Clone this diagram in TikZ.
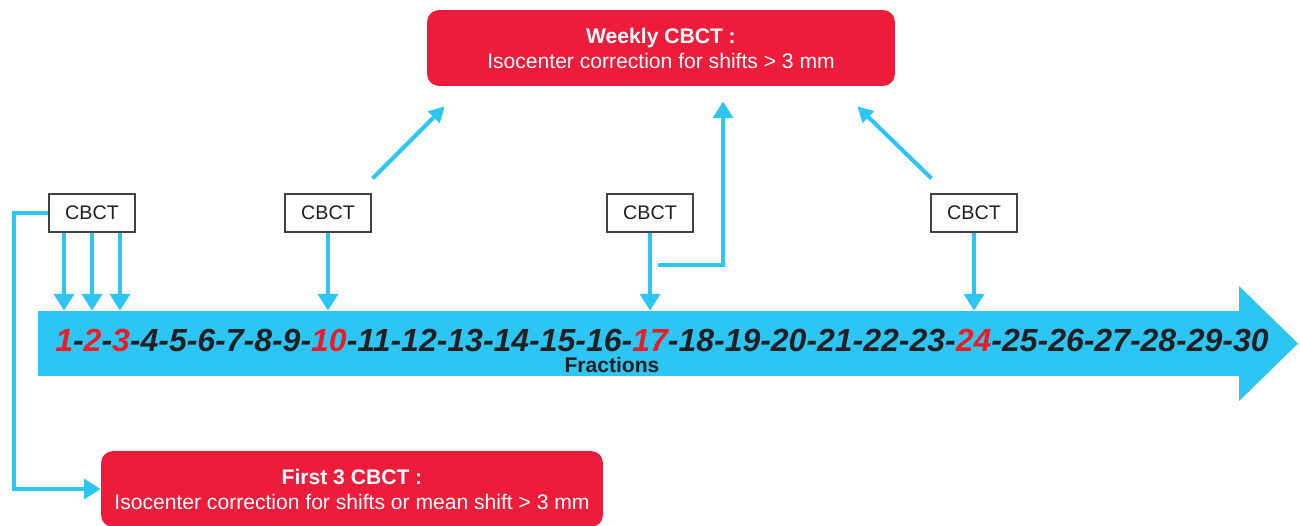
\documentclass[tikz,border=0pt]{standalone}
\usepackage{fontspec}
\setmainfont{Liberation Sans}
\usetikzlibrary{positioning,arrows.meta,calc,shapes}
\definecolor{arrowcyan}{RGB}{45,197,244}
\definecolor{boxred}{RGB}{237,28,58}
\definecolor{fracred}{RGB}{237,28,36}
\definecolor{textblack}{RGB}{35,31,32}
\tikzset{
    cbct/.style = {
        draw=textblack!85,
        shape=rectangle,
        minimum height=0.76cm,
        minimum width=1.72cm,
        line width=0.6pt,
        fill=white,
        text=textblack,
        font=\fontsize{11.2}{13}\selectfont
    },
    protocol/.style = {
        shape=rectangle,
        rounded corners=0.24cm,
        fill=boxred,
        text=white,
        align=center,
        minimum height=1.52cm,
        inner sep=0pt,
        font=\fontsize{12}{14.2}\selectfont
    },
    timeline/.style = {
        shape=rectangle,
        fill=arrowcyan,
        minimum width=24.04cm,
        minimum height=1.3cm,
        inner sep=0pt
    },
    link/.style = {
        draw=arrowcyan,
        line width=2.3pt,
        ->
    },
    diag/.style = {
        -{Triangle[length=8.8pt,width=9pt]}
    },
    >={Triangle[length=9.6pt,width=11.3pt]},
}

\begin{document}
\begin{tikzpicture}[x={(0.02cm,0)}, y={(0,-0.02cm)}]
            \useasboundingbox (0,0) rectangle (1300,525);

            \node[protocol, minimum width=9.36cm] (weekly) at (661,48) {\textbf{Weekly CBCT :}\\Isocenter correction for shifts > 3 mm};
            \node[protocol, minimum width=10.04cm] (first) at (352,489) {\textbf{First 3 CBCT :}\\Isocenter correction for shifts or mean shift > 3 mm};

            % the fraction arrow
            \node[timeline] (timeline) at (639,343.5) {};
            \fill[arrowcyan] (1239,286) -- (1298,343.5) -- (1239,401) -- cycle;
            \node[font=\fontsize{18.2}{20}\selectfont\bfseries\itshape, text=textblack, inner sep=0pt] (fractions) at (662,340) {\textcolor{fracred}{1}-\textcolor{fracred}{2}-\textcolor{fracred}{3}-4-5-6-7-8-9-\textcolor{fracred}{10}-11-12-13-14-15-16-\textcolor{fracred}{17}-18-19-20-21-22-23-\textcolor{fracred}{24}-25-26-27-28-29-30};
            \node[font=\fontsize{12}{14}\selectfont\bfseries, text=textblack, inner sep=0pt] (fraclabel) at (612,365) {Fractions};

            \node[cbct] (cbct1) at (92,213) {CBCT};
            \node[cbct] (cbct2) at (328,213) {CBCT};
            \node[cbct] (cbct3) at (650,213) {CBCT};
            \node[cbct] (cbct4) at (974,213) {CBCT};

            \path[link] ([xshift=-0.56cm]cbct1.south) -- ([xshift=-0.56cm]cbct1.south |- timeline.north);
            \path[link] (cbct1.south) -- (cbct1.south |- timeline.north);
            \path[link] ([xshift=0.56cm]cbct1.south) -- ([xshift=0.56cm]cbct1.south |- timeline.north);
            \path[link] (cbct2.south) -- (cbct2.south |- timeline.north);
            \path[link] (cbct3.south) -- (cbct3.south |- timeline.north);
            \path[link] (cbct4.south) -- (cbct4.south |- timeline.north);

            \path[link, diag] ($(cbct2.north east)+(1,-15)$) -- ($(weekly.south west)+(18,20)$);
            \path[link] ($(cbct3.south)+(8,32)$) -| ($(weekly.south)+(62,15)$);
            \path[link, diag] ($(cbct4.north west)+(1,-15)$) -- ($(weekly.south east)+(-38,20)$);

            \coordinate (bend) at (14,0);
            \path[link] (cbct1.west) -- (cbct1.west -| bend) |- (first.west);

        \end{tikzpicture}
\end{document}
